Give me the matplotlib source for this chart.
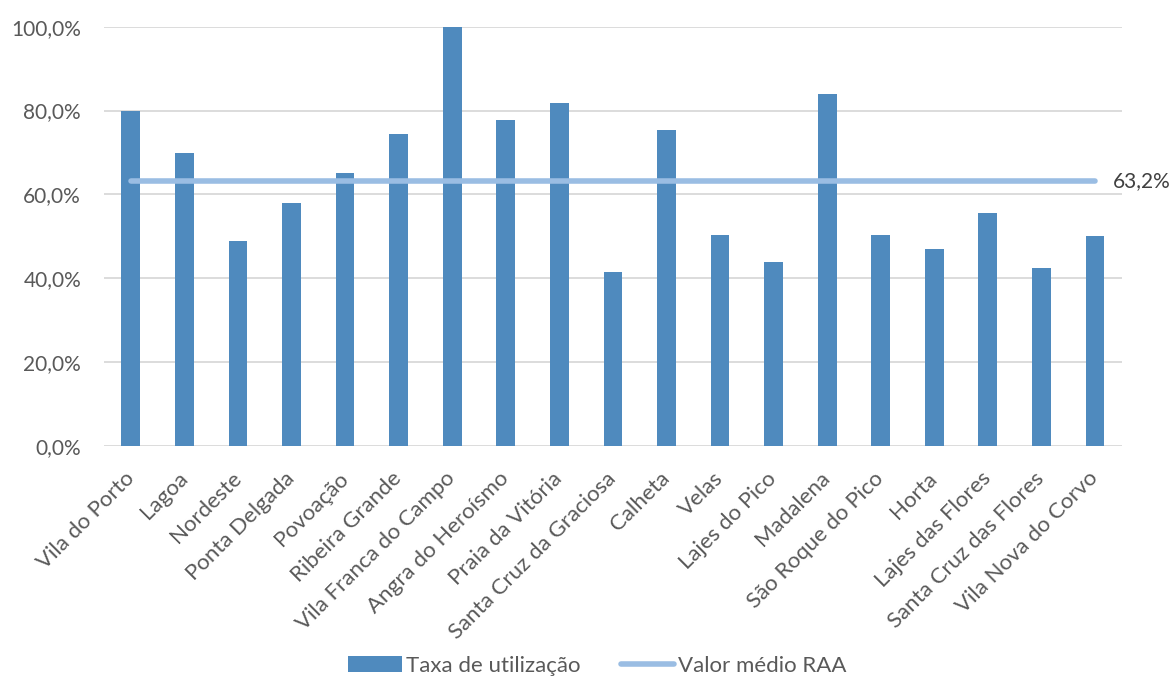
import numpy as np
import matplotlib
matplotlib.use('Agg')
from matplotlib import pyplot as plt
from matplotlib.ticker import FuncFormatter

# data
concelhos = ['Vila do Porto', 'Lagoa', 'Nordeste', 'Ponta Delgada', 'Povoação',
             'Ribeira Grande', 'Vila Franca do Campo', 'Angra do Heroísmo',
             'Praia da Vitória', 'Santa Cruz da Graciosa', 'Calheta', 'Velas',
             'Lajes do Pico', 'Madalena', 'São Roque do Pico', 'Horta',
             'Lajes das Flores', 'Santa Cruz das Flores', 'Vila Nova do Corvo']
taxa = [80.0, 70.0, 49.0, 58.0, 65.0, 74.5, 100.0, 77.8, 81.8, 41.5,
        75.4, 50.3, 44.0, 83.9, 50.4, 47.0, 55.6, 42.5, 50.0]
media_raa = 63.2

plt.rcParams['font.family'] = ['Lato', 'DejaVu Sans']
grey = '#595959'
fs = 15

fig = plt.figure(figsize=(11.74, 6.82), dpi=100)
ax = fig.add_axes([0.0886, 0.346, 0.8669, 0.6148])

x = np.arange(len(concelhos))
barras = ax.bar(x, taxa, width=0.35, color='#4F8ABE', label='Taxa de utilização', zorder=2)
linha, = ax.plot([x[0], x[-1]], [media_raa, media_raa], color='#9ABDE3', lw=4,
                 solid_capstyle='round', label='Valor médio RAA', zorder=3)
ax.text(x[-1] + 0.33, media_raa, '63,2%', color='#404040', fontsize=fs,
        va='center', ha='left')

ax.set_ylim(0, 100)
ax.set_xlim(-0.5, len(concelhos) - 0.5)
ax.set_yticks(np.arange(0, 101, 20))
ax.yaxis.set_major_formatter(FuncFormatter(lambda v, p: ('%.1f%%' % v).replace('.', ',')))
ax.grid(axis='y', color='#D9D9D9', lw=1.3, zorder=0)
for s in ax.spines.values():
    s.set_visible(False)
ax.tick_params(length=0, labelsize=fs, labelcolor=grey)
ax.tick_params(axis='y', pad=16.5)
ax.set_xticks(x)
ax.set_xticklabels(concelhos, rotation=45, ha='right', va='center', rotation_mode='anchor',
                   fontsize=16)
ax.tick_params(axis='x', pad=21)

leg = fig.legend([barras, linha], ['Taxa de utilização', 'Valor médio RAA'],
                 loc='center', bbox_to_anchor=(0.509, 1 - 666 / 682), ncol=2,
                 frameon=False, fontsize=16, handlelength=2.4, handletextpad=0.2,
                 columnspacing=1.8)
for t in leg.get_texts():
    t.set_color(grey)

fig.savefig('out.png', dpi=100)
